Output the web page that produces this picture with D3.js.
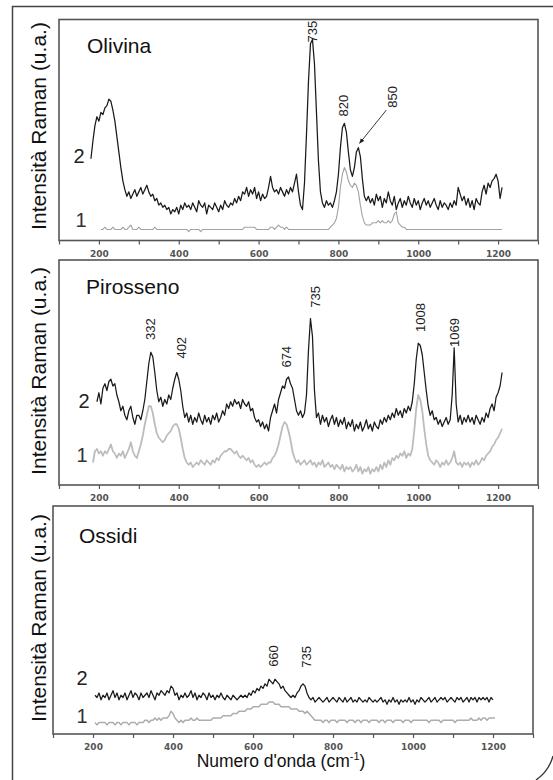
<!DOCTYPE html>
<html><head><meta charset="utf-8">
<script src="https://cdn.jsdelivr.net/npm/d3@7"></script>
<style>body{margin:0;background:#fff}svg{display:block}</style>
</head><body>
<svg id="chart" width="553" height="780"></svg>
<script>
// ---------- data ----------
const wavenumbers = [
180,185,190,195,200,205,210,215,220,225,
230,235,240,245,250,255,260,265,270,275,
280,285,290,295,300,305,310,315,320,325,
330,335,340,345,350,355,360,365,370,375,
380,385,390,395,400,405,410,415,420,425,
430,435,440,445,450,455,460,465,470,475,
480,485,490,495,500,505,510,515,520,525,
530,535,540,545,550,555,560,565,570,575,
580,585,590,595,600,605,610,615,620,625,
630,635,640,645,650,655,660,665,670,675,
680,685,690,695,700,705,710,715,720,725,
730,735,740,745,750,755,760,765,770,775,
780,785,790,795,800,805,810,815,820,825,
830,835,840,845,850,855,860,865,870,875,
880,885,890,895,900,905,910,915,920,925,
930,935,940,945,950,955,960,965,970,975,
980,985,990,995,1000,1005,1010,1015,1020,1025,
1030,1035,1040,1045,1050,1055,1060,1065,1070,1075,
1080,1085,1090,1095,1100,1105,1110,1115,1120,1125,
1130,1135,1140,1145,1150,1155,1160,1165,1170,1175,
1180,1185,1190,1195,1200,1205,1210,1215];

const olivina2 = [
37,45,52,56,54,58,57,60,61,64,
63,59,54,47,40,33,27,23,20,22,
19,21,23,20,22,24,21,23,25,22,
20,21,18,19,16,17,15,16,14,15,
12,14,13,15,12,16,14,17,15,16,
14,17,15,13,18,16,15,17,12,16,
15,14,17,15,13,16,14,18,16,15,
17,16,19,17,20,18,22,21,24,20,
23,21,24,19,22,18,21,19,20,24,
29,24,22,23,21,24,22,20,23,21,
24,22,26,30,22,16,14,26,48,72,
89,91,80,58,36,22,17,15,18,16,
17,15,18,22,30,42,51,53,49,40,
32,29,33,40,42,38,28,20,18,20,
17,19,16,21,18,20,15,19,17,22,
18,16,20,14,17,19,15,18,16,20,
17,15,19,16,18,14,17,19,16,18,
15,17,19,16,14,18,15,17,16,14,
17,15,18,16,24,21,18,20,16,19,
15,18,14,19,17,16,22,25,21,26,
24,27,28,30,27,19,24,null];

const olivina1 = [
null,null,null,null,null,5,5,6,5,5,
5,6,5,5,5,5,6,5,5,6,
7,5,5,5,6,5,5,5,5,5,
5,5,6,5,5,5,5,5,5,5,
5,5,5,5,5,5,5,5,5,4,
5,5,5,5,5,4,5,5,5,5,
5,5,5,5,5,5,5,5,5,5,
5,5,5,5,5,5,5,6,6,6,
6,6,6,5,5,5,5,5,5,5,
6,6,5,6,7,6,6,5,6,5,
5,5,5,5,5,5,5,5,5,5,
5,5,5,5,5,5,5,5,5,5,
6,7,8,10,15,24,30,33,31,27,
25,24,26,25,22,16,11,8,7,7,
7,8,8,8,9,8,9,8,8,9,
8,9,12,13,8,7,6,6,5,5,
5,5,5,5,5,5,5,5,5,5,
5,5,5,5,5,5,5,5,5,5,
5,5,5,5,5,5,5,5,5,5,
5,5,5,5,5,5,5,5,5,5,
5,5,5,5,5,5,5,null];

const pirosseno2 = [
null,null,null,37,41,36,43,45,42,46,
47,44,45,40,37,33,35,31,29,33,
35,30,27,31,31,29,33,38,46,54,
59,57,50,42,37,39,35,38,36,40,
38,43,47,50,47,42,35,30,32,28,
31,27,30,28,32,29,27,31,28,30,
27,31,29,32,28,30,33,31,36,34,
37,35,38,36,37,34,38,36,35,37,
33,34,30,28,29,26,28,25,27,24,
30,33,36,32,38,41,44,43,47,48,
45,43,38,33,31,33,30,32,40,60,
74,66,42,30,32,27,31,28,30,26,
29,31,27,30,26,29,27,30,25,28,
26,29,24,27,25,28,24,26,29,25,
27,24,28,26,25,29,27,30,28,31,
29,32,30,34,31,33,30,34,32,35,
33,37,45,56,63,62,58,50,42,35,
31,33,29,30,27,29,26,28,30,27,
29,40,61,36,28,31,27,30,28,31,
28,30,27,31,29,27,30,28,32,30,
34,36,33,39,41,44,50,null];

const pirosseno1 = [
null,10,15,16,14,15,13,15,14,16,
18,15,14,12,14,13,15,12,14,16,
19,15,13,12,15,18,22,27,31,35,
35,32,27,23,21,20,19,20,22,23,
24,26,27,27,25,21,16,12,10,9,
10,8,9,10,9,11,10,9,11,10,
9,11,10,12,11,13,14,15,15,16,
16,15,14,15,13,12,13,12,11,12,
10,11,9,8,9,8,9,10,9,10,
10,12,13,15,18,22,26,28,27,24,
20,15,12,10,11,9,10,11,9,10,
11,9,10,8,10,9,11,8,9,10,
8,9,7,9,8,7,9,6,8,7,
8,6,7,9,6,8,5,7,6,8,
5,7,6,8,6,9,7,10,8,11,
9,12,11,13,12,14,13,15,12,14,
13,16,24,34,40,38,33,25,18,13,
11,10,9,11,10,8,10,9,11,9,
10,12,15,10,9,10,8,10,9,10,
8,10,9,11,9,10,12,11,13,14,
15,17,18,20,21,23,25,null];

const ossidi2 = [
null,null,null,null,null,17,16,18,15,17,
16,18,15,17,19,16,18,15,17,16,
18,15,17,19,16,18,17,15,18,16,
17,18,16,19,17,15,18,17,19,18,
17,19,18,21,20,17,18,15,17,16,
18,16,17,19,16,18,15,17,16,18,
17,15,18,16,17,15,17,16,18,16,
15,17,16,15,17,16,15,16,17,16,
17,16,18,17,19,18,20,19,21,20,
22,21,24,23,22,24,23,22,20,21,
19,18,17,16,17,16,18,19,21,22,
21,18,16,15,16,14,15,16,15,14,
15,16,14,15,16,15,14,16,15,14,
16,14,15,16,14,15,14,16,15,14,
15,14,16,15,14,15,14,15,16,14,
15,13,15,14,16,14,15,13,15,14,
15,14,16,14,15,13,15,14,16,15,
14,15,16,14,15,16,14,15,16,15,
16,14,15,16,15,14,16,15,16,14,
15,16,14,16,15,16,14,16,15,16,
15,16,14,16,15,null,null,null];

const ossidi1 = [
null,null,null,null,null,5,4,5,5,5,
5,4,5,5,5,4,5,5,4,5,
5,5,4,5,5,5,4,5,5,5,
6,6,5,6,6,7,6,7,6,7,
7,7,8,10,9,7,6,5,6,5,
6,6,6,7,6,6,7,6,6,6,
6,6,6,6,7,7,7,7,7,8,
8,8,8,8,9,9,9,10,10,10,
10,11,11,11,12,12,12,12,13,13,
13,13,14,14,14,13,13,13,12,12,
12,12,12,11,11,11,11,10,10,10,
9,10,9,8,7,6,6,6,6,5,
6,6,5,6,6,6,5,6,6,6,
6,5,6,6,6,5,6,6,5,6,
6,6,5,6,6,6,6,5,6,6,
5,6,6,6,5,6,6,6,6,5,
6,6,6,5,6,6,6,6,6,6,
6,6,5,6,6,6,6,6,5,6,
6,6,6,6,6,5,6,6,6,6,
6,6,6,7,6,6,6,7,6,7,
7,6,7,7,7,7,null,null];

const tickValues = [100,200,300,400,500,600,700,800,900,1000,1100,1200,1300];
const tickLabels = [200,400,600,800,1000,1200];
const panelNames = ["Olivina","Pirosseno","Ossidi"];
const seriesNames = ["1","2"];
const yTitle = "Intensità Raman (u.a.)";
const xTitle = "Numero d'onda (cm";

// peak annotations: label, wavenumber, height (data units)
const olivinaPeaks = [["735",735,94.5],["820",812,61],["850",935,65]];
const pirossenoPeaks = [["332",330,69.3],["402",408,61],["674",670,57],["735",743,83.6],["1008",1006,74.4],["1069",1090,67.8]];
const ossidiPeaks = [["660",652,34.2],["735",733,33.8]];
const olivinaArrow = [[920,59],[853,44]];

// ---------- layout ----------
const svg = d3.select("#chart");
svg.append("rect").attr("width",553).attr("height",780).attr("fill","#fff");

const defs = svg.append("defs");
defs.append("marker").attr("id","arr").attr("viewBox","0 0 10 10")
  .attr("refX",9).attr("refY",5).attr("markerWidth",6).attr("markerHeight",6)
  .attr("orient","auto").append("path").attr("d","M0,1 L10,5 L0,9 z").attr("fill","#222");

const panels = [
  {name:panelNames[0], s2:olivina2, s1:olivina1, peaks:olivinaPeaks,
   x0:59, x1:538, y0:19.5, y1:240.5, title:[87,53], l2:[79,163], l1:[81,227],
   grayCol:"#a2a2a2", grayW:1.1, ytc:126},
  {name:panelNames[1], s2:pirosseno2, s1:pirosseno1, peaks:pirossenoPeaks,
   x0:59, x1:538, y0:260, y1:485, title:[86,294], l2:[84,408], l1:[82,462],
   grayCol:"#bcbcbc", grayW:1.8, ytc:371},
  {name:panelNames[2], s2:ossidi2, s1:ossidi1, peaks:ossidiPeaks,
   x0:53, x1:533, y0:506, y1:734, title:[79,543], l2:[82,685], l1:[82,723],
   grayCol:"#adadad", grayW:1.5, ytc:618}
];

const FONT = "'Liberation Sans', Arial, sans-serif";

panels.forEach((p,i) => {
  const x = d3.scaleLinear().domain([100,1300]).range([p.x0,p.x1]);
  const y = d3.scaleLinear().domain([0,100]).range([p.y1,p.y0]);
  const g = svg.append("g");

  const line = d3.line().defined(d => d[1] != null)
    .x(d => x(d[0])).y(d => y(d[1]));

  g.append("path").datum(wavenumbers.map((w,k)=>[w,p.s1[k]]))
    .attr("d",line).attr("fill","none").attr("stroke",p.grayCol)
    .attr("stroke-width",p.grayW).attr("stroke-linejoin","round");
  g.append("path").datum(wavenumbers.map((w,k)=>[w,p.s2[k]]))
    .attr("d",line).attr("fill","none").attr("stroke","#1a1a1a")
    .attr("stroke-width",1.25).attr("stroke-linejoin","round");

  // frame
  g.append("rect").attr("x",p.x0).attr("y",p.y0)
    .attr("width",p.x1-p.x0).attr("height",p.y1-p.y0)
    .attr("fill","none").attr("stroke","#555").attr("stroke-width",1.6);

  // axis
  const ax = d3.axisBottom(x).tickValues(tickValues).tickSize(4).tickPadding(6)
    .tickFormat(d => tickLabels.includes(d) ? String(d) : "");
  const axg = g.append("g").attr("transform",`translate(0,${p.y1})`).call(ax);
  axg.select(".domain").remove();
  axg.selectAll(".tick line").attr("stroke","#555").attr("stroke-width",1.2);
  axg.selectAll(".tick text").attr("font-family","'DejaVu Sans', sans-serif")
    .attr("font-size",9).attr("font-weight","bold").attr("fill","#555");

  // y title
  g.append("text").attr("transform",`translate(38,${p.ytc}) rotate(-90)`)
    .attr("text-anchor","middle").attr("dominant-baseline","central")
    .attr("font-family",FONT).attr("font-size",21).attr("fill","#111").text(yTitle);

  // panel title
  g.append("text").attr("x",p.title[0]).attr("y",p.title[1])
    .attr("font-family",FONT).attr("font-size",21).attr("fill","#111").text(p.name);

  // series labels
  g.append("text").attr("x",p.l2[0]).attr("y",p.l2[1]).attr("text-anchor","middle")
    .attr("font-family",FONT).attr("font-size",20).attr("fill","#222").text(seriesNames[1]);
  g.append("text").attr("x",p.l1[0]).attr("y",p.l1[1]).attr("text-anchor","middle")
    .attr("font-family",FONT).attr("font-size",20).attr("fill","#333").text(seriesNames[0]);

  // peak labels
  p.peaks.forEach(pk => {
    g.append("text").attr("transform",`translate(${x(pk[1])},${y(pk[2])}) rotate(-90)`)
      .attr("text-anchor","middle").attr("dominant-baseline","central")
      .attr("font-family",FONT).attr("font-size",13).attr("fill","#222").text(pk[0]);
  });

  if (i === 0) {
    g.append("line").attr("x1",x(olivinaArrow[0][0])).attr("y1",y(olivinaArrow[0][1]))
      .attr("x2",x(olivinaArrow[1][0])).attr("y2",y(olivinaArrow[1][1]))
      .attr("stroke","#222").attr("stroke-width",0.9).attr("marker-end","url(#arr)");
  }
  if (i === 2) {
    const t = svg.append("text").attr("x",281).attr("y",767).attr("text-anchor","middle")
      .attr("font-family",FONT).attr("font-size",17.5).attr("fill","#111");
    t.append("tspan").text(xTitle);
    t.append("tspan").attr("font-size",11).attr("dy",-7).text("-1");
    t.append("tspan").attr("dy",7).text(")");
  }
});

// outer frame and page curl
svg.append("path").attr("d","M553,6.5 H12.5 V780").attr("fill","none")
  .attr("stroke","#444").attr("stroke-width",1.5);
svg.append("path").attr("d","M553,756 Q549,771 536,780").attr("fill","none")
  .attr("stroke","#333").attr("stroke-width",1.3);
</script>
</body></html>
